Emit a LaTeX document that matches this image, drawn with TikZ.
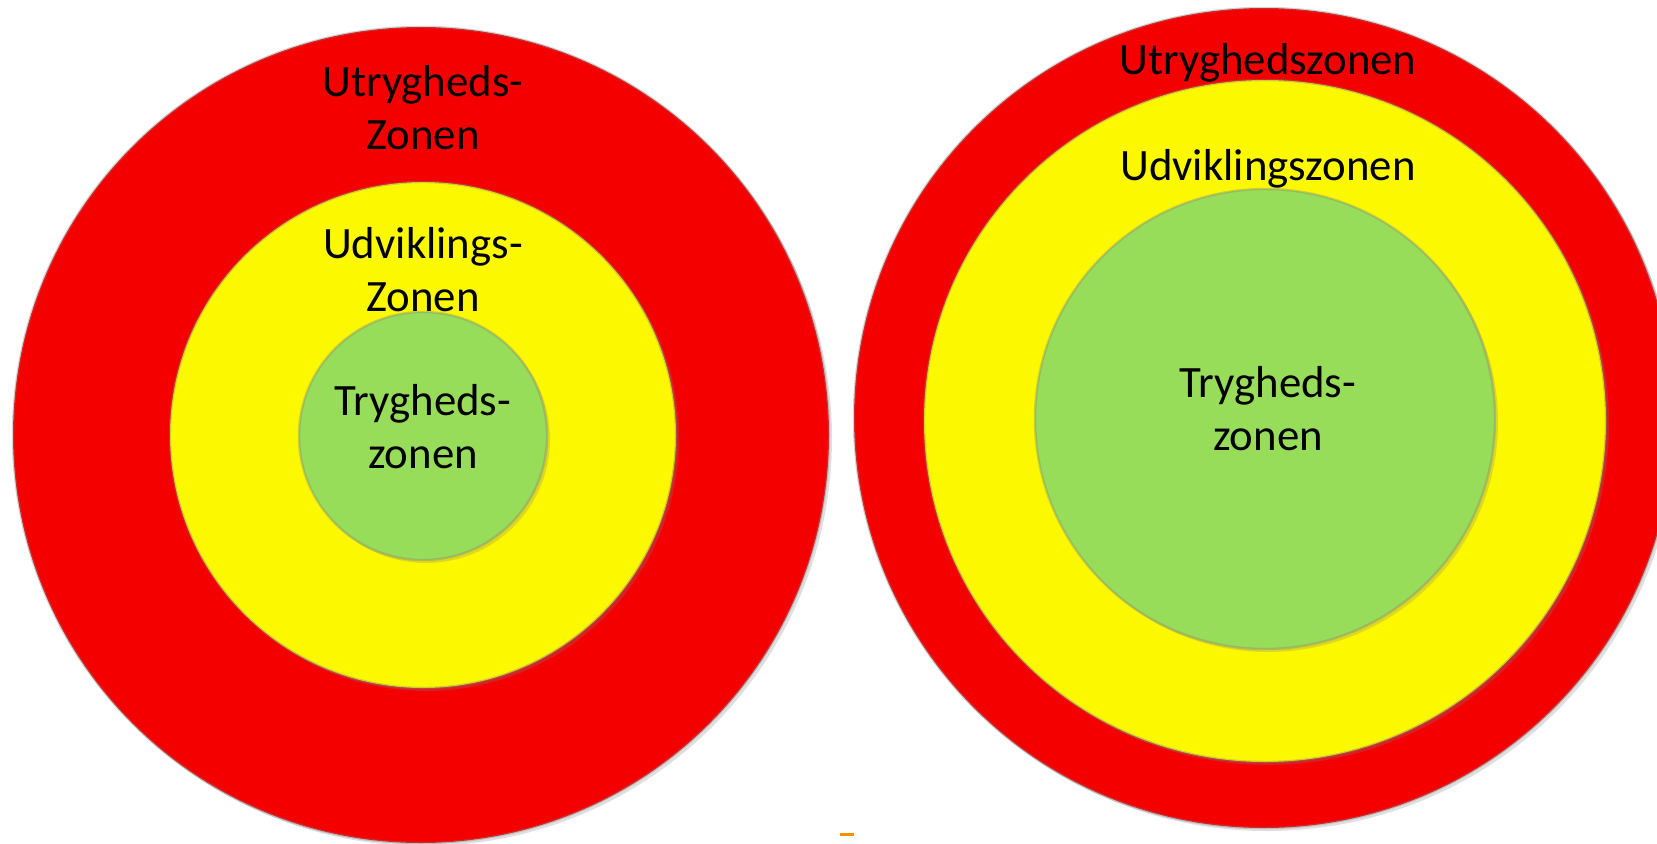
\documentclass[tikz,border=0pt]{standalone}
\usepackage{fontspec}
\setmainfont{Carlito}
\usetikzlibrary{shadows}
\definecolor{zonered}{HTML}{F50000}
\definecolor{zoneyellow}{HTML}{FCF800}
\definecolor{zonegreen}{HTML}{98DD5A}
\definecolor{markorange}{HTML}{F39200}
\tikzset{
  zone/.style={draw=black!50, draw opacity=.35, line width=1.2pt,
    drop shadow={opacity=.25, shadow xshift=1.5pt, shadow yshift=-1.5pt}},
  zonelabel/.style={align=center, text=black, font=\fontsize{22.4}{26.5}\selectfont}
}
\begin{document}
\begin{tikzpicture}[x=0.5pt,y=0.5pt]
  \useasboundingbox (0,0) rectangle (1657,843);
  % venstre: smal tryghedszone
  \draw[zone, fill=zonered] (421,408) circle (408);
  \draw[zone, fill=zoneyellow] (423,408) circle (253);
  \draw[zone, fill=zonegreen] (423,407) circle (124);
  \node[zonelabel] (utryg1) at (423,735) {Utrygheds-\\Zonen};
  \node[zonelabel] (udvik1) at (423,573) {Udviklings-\\Zonen};
  \node[zonelabel] (tryg1) at (423,416) {Trygheds-\\zonen};

  % hoejre: stor tryghedszone
  \draw[zone, fill=zonered] (1264,425) circle (410);
  \draw[zone, fill=zoneyellow] (1265,422) circle (341);
  \draw[zone, fill=zonegreen] (1265,424) circle (230);
  \node[zonelabel] (utryg2) at (1268,780) {Utryghedszonen};
  \node[zonelabel] (udvik2) at (1268,674) {Udviklingszonen};
  \node[zonelabel] (tryg2) at (1268,434) {Trygheds-\\zonen};

  \fill[markorange] (840,7) rectangle (854,10);
\end{tikzpicture}
\end{document}
